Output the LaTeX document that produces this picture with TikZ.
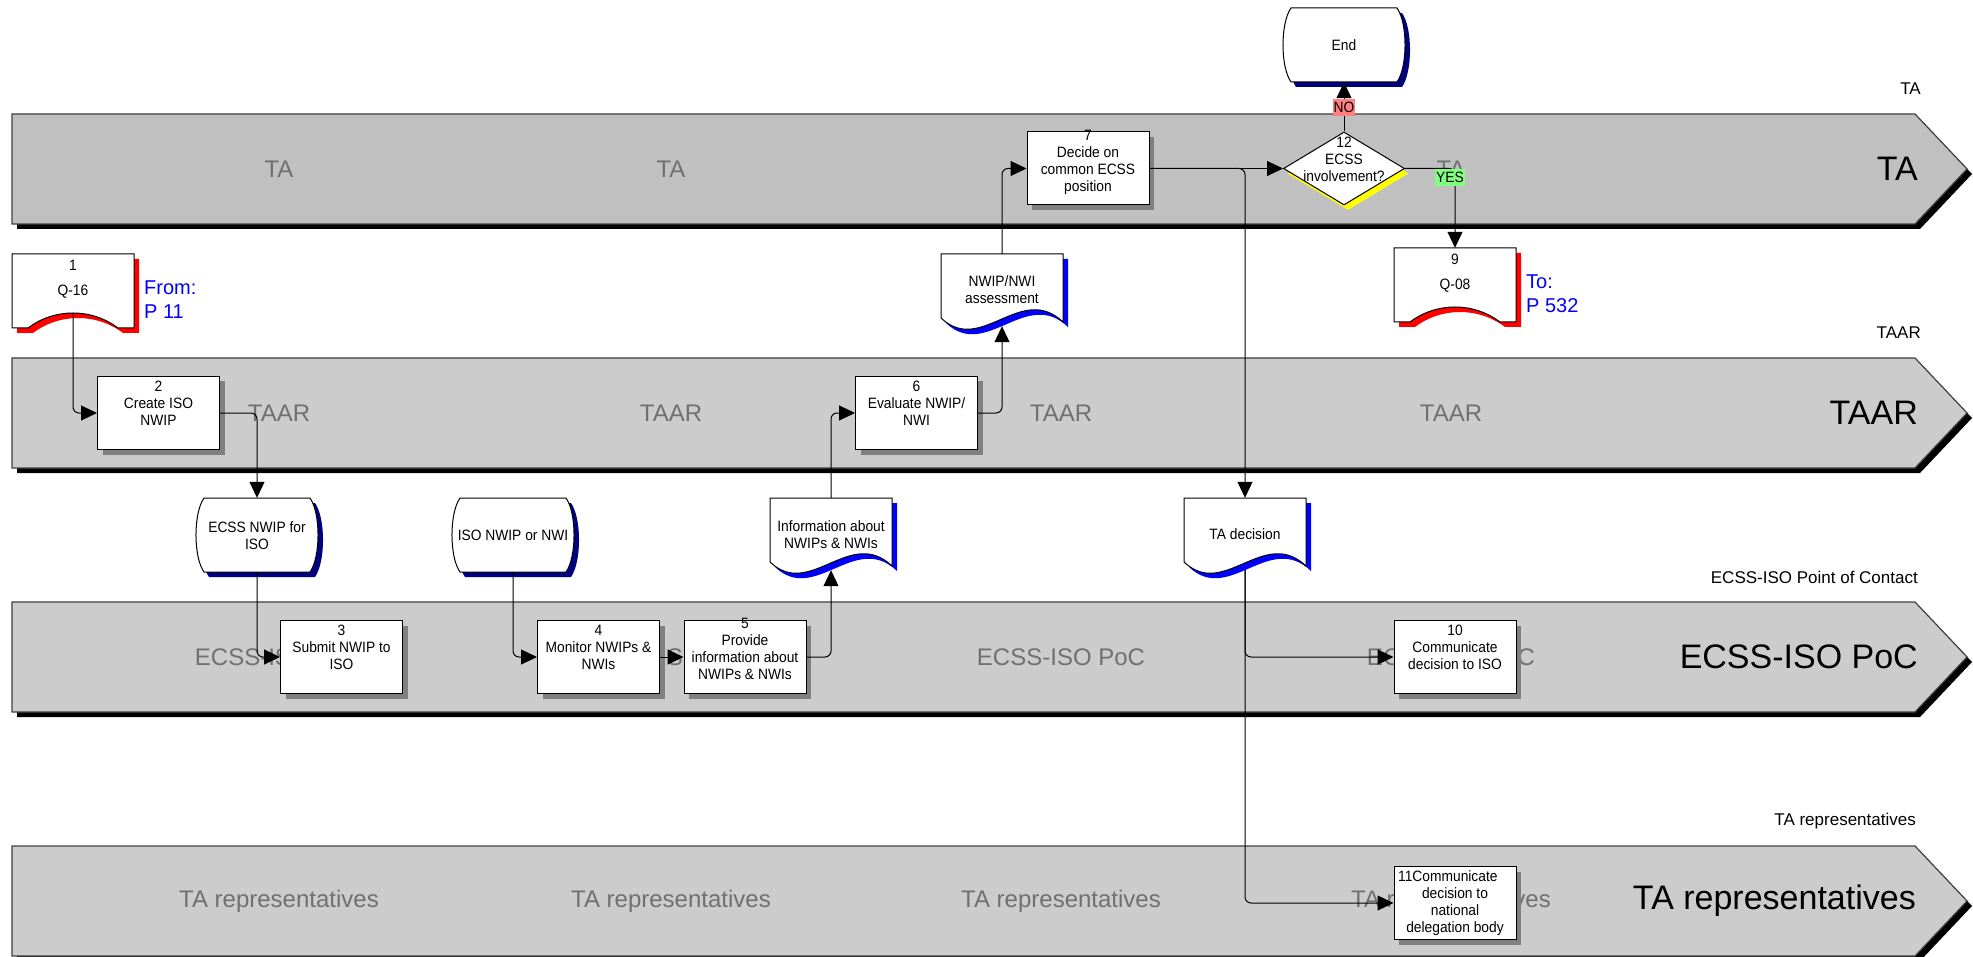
\documentclass[tikz,border=0pt]{standalone}
\usepackage{fontspec}
\setmainfont{Liberation Sans}
\newfontfamily\boxfont[FakeStretch=0.92]{Liberation Sans}
\usetikzlibrary{arrows.meta,shadows,shapes.geometric,calc}

\definecolor{lanedark}{HTML}{C0C0C0}
\definecolor{lanelight}{HTML}{CCCCCC}
\definecolor{laneedge}{HTML}{404040}
\definecolor{lanetext}{HTML}{707070}
\definecolor{boxshade}{HTML}{808080}
\definecolor{docshade}{HTML}{0000FF}
\definecolor{termshade}{HTML}{000080}
\definecolor{pageshade}{HTML}{FF0000}
\definecolor{decshade}{HTML}{FFFF00}
\definecolor{refblue}{HTML}{0000FF}
\definecolor{nofill}{HTML}{FF8080}
\definecolor{yesfill}{HTML}{80FF80}

% outlines in local units (1 unit = 1pt, y grows downwards)
\newcommand\swimlaneoutline{(0,0) -- (1903,0) -- (1955,55) -- (1903,110) -- (0,110) -- cycle}
\newcommand\docsymoutline{(0,0) -- (122,0) -- (122,68) .. controls (80,28) and (40,102) .. (0,64) -- cycle}
\newcommand\termsymoutline{(8,0) -- (114,0) .. controls (124.7,15) and (124.7,59) .. (114,74) -- (8,74) .. controls (-2.7,59) and (-2.7,15) .. (8,0) -- cycle}
\newcommand\pagesymoutline{(0,0) -- (122,0) -- (122,74) -- (106,74) .. controls (79.4,54) and (42.6,54) .. (16,74) -- (0,74) -- cycle}

% flowchart symbol with an offset shadow: outline, left, top, shadow colour
\newcommand\shadedsymbol[4]{%
  \begin{scope}[shift={(#2,#3)}]
    \fill[#4, shift={(5,5)}] #1;
    \filldraw[fill=white, draw=black, line width=1pt] #1;
  \end{scope}}

% swimlane band: top, fill colour
\newcommand\swimlane[2]{%
  \begin{scope}[shift={(12,#1)}]
    \fill[black, shift={(5,5)}] \swimlaneoutline;
    \filldraw[fill=#2, draw=laneedge, line width=1.2pt] \swimlaneoutline;
  \end{scope}}

% centred multi-line text that does not change the size of its node
\newcommand\boxtext[2][0pt]{\smash{\raisebox{#1}{\makebox[0pt]{\begin{tabular}{@{}c@{}}#2\end{tabular}}}}}

\begin{document}
\begin{tikzpicture}[x=1pt, y=-1pt,
  header/.style={anchor=east, inner sep=0pt, font=\fontsize{17pt}{20pt}\selectfont},
  lanetitle/.style={anchor=east, inner sep=0pt, font=\fontsize{34pt}{40pt}\selectfont},
  faint/.style={inner sep=0pt, text=lanetext, font=\fontsize{24pt}{28pt}\selectfont},
  boxfontstyle/.style={font=\boxfont\fontsize{15pt}{17pt}\selectfont},
  proc/.style={boxfontstyle, rectangle, draw=black, line width=1pt, fill=white,
    minimum width=122pt, minimum height=73pt, inner sep=0pt,
    general shadow={fill=boxshade, shadow xshift=5pt, shadow yshift=-5pt}},
  decision/.style={boxfontstyle, diamond, draw=black, line width=1pt, fill=white,
    minimum width=121pt, minimum height=73pt, inner sep=0pt,
    general shadow={fill=decshade, shadow xshift=4pt, shadow yshift=-5pt}},
  symtext/.style={boxfontstyle, inner sep=0pt, minimum width=122pt, minimum height=74pt},
  doctext/.style={symtext, minimum height=72pt},
  reflabel/.style={anchor=west, inner sep=0pt, align=left, text=refblue,
    font=\fontsize{20pt}{24pt}\selectfont},
  flow/.style={draw=black, line width=1pt, rounded corners=6pt,
    -{Triangle[length=16pt,width=15pt]}},
  nolabel/.style={boxfontstyle, fill=nofill, inner xsep=1pt, inner ysep=3pt, sharp corners},
  yeslabel/.style={boxfontstyle, fill=yesfill, inner xsep=1pt, inner ysep=3pt, sharp corners},
]
\useasboundingbox (0,0) rectangle (1973,957);

% ---------------- swimlanes ----------------
\swimlane{114}{lanedark}
\swimlane{358}{lanelight}
\swimlane{602}{lanelight}
\swimlane{846}{lanelight}

\node[header] (hdrTA)   at (1921,89)  {TA};
\node[header] (hdrTAAR) at (1921,333) {TAAR};
\node[header] (hdrPoC)  at (1918,577) {ECSS-ISO Point of Contact};
\node[header] (hdrRep)  at (1916,821) {TA representatives};

\node[lanetitle] (ttlTA)   at (1918,169) {TA};
\node[lanetitle] (ttlTAAR) at (1918,413) {TAAR};
\node[lanetitle] (ttlPoC)  at (1918,657) {ECSS-ISO PoC};
\node[lanetitle] (ttlRep)  at (1916,901) {TA representatives};

\foreach \x [count=\i] in {279,671,1061,1451} {
  \node[faint] (faintTA\i)   at (\x,169) {TA};
  \node[faint] (faintTAAR\i) at (\x,413) {TAAR};
  \node[faint] (faintPoC\i)  at (\x,657) {ECSS-ISO PoC};
  \node[faint] (faintRep\i)  at (\x,901) {TA representatives};
}

% ---------------- symbol outlines ----------------
\shadedsymbol{\pagesymoutline}{12}{254}{pageshade}
\shadedsymbol{\pagesymoutline}{1394}{248}{pageshade}
\shadedsymbol{\termsymoutline}{196}{498}{termshade}
\shadedsymbol{\termsymoutline}{452}{498}{termshade}
\shadedsymbol{\termsymoutline}{1283}{8}{termshade}
\shadedsymbol{\docsymoutline}{941}{254}{docshade}
\shadedsymbol{\docsymoutline}{770}{498}{docshade}
\shadedsymbol{\docsymoutline}{1184}{498}{docshade}

% ---------------- nodes ----------------
\node[symtext] (n1) at (73,291) {\boxtext[7.8pt]{1\\[8pt]Q-16}};
\node[symtext] (n9) at (1455,285) {\boxtext[7.8pt]{9\\[8pt]Q-08}};
\node[reflabel] (from1) at (144,300) {From:\\P 11};
\node[reflabel] (to9) at (1526,294) {To:\\P 532};

\node[symtext] (ecssnwip) at (257,535) {\boxtext[-5.7pt]{ECSS NWIP for\\ISO}};
\node[symtext] (isonwi) at (513,535) {\boxtext[-5.7pt]{ISO NWIP or NWI}};
\node[symtext] (endnode) at (1344,45) {\boxtext[-5.7pt]{End}};

\node[doctext] (assess) at (1002,290) {\boxtext[-5.7pt]{NWIP/NWI\\assessment}};
\node[doctext] (info) at (831,534) {\boxtext[-5.7pt]{Information about\\NWIPs \& NWIs}};
\node[doctext] (tadec) at (1245,534) {\boxtext[-5.7pt]{TA decision}};

\node[proc] (n2) at (158.5,413) {\boxtext[4pt]{2\\Create ISO\\NWIP}};
\node[proc] (n3) at (341.5,657) {\boxtext[4pt]{3\\Submit NWIP to\\ISO}};
\node[proc] (n4) at (598.5,657) {\boxtext[4pt]{4\\Monitor NWIPs \&\\NWIs}};
\node[proc] (n5) at (745,657) {\boxtext[2.5pt]{5\\Provide\\information about\\NWIPs \& NWIs}};
\node[proc] (n6) at (916.5,413) {\boxtext[4pt]{6\\Evaluate NWIP/\\NWI}};
\node[proc] (n7) at (1088,168.5) {\boxtext[2.5pt]{7\\Decide on\\common ECSS\\position}};
\node[proc] (n10) at (1455,657) {\boxtext[4pt]{10\\Communicate\\decision to ISO}};
\node[proc] (n11) at (1455,903) {\boxtext[-3.7pt]{\llap{11}Communicate\\decision to\\national\\delegation body}};

\node[decision] (n12) at (1344,168.5) {\boxtext[3.3pt]{12\\ECSS\\involvement?}};

% ---------------- connectors ----------------
\draw[flow] ($(n1.south)+(0pt,15pt)$) |- (n2.west);
\draw[flow] (n2.east) -| (ecssnwip.north);
\draw[flow] (ecssnwip.south) |- (n3.west);
\draw[flow] (isonwi.south) |- (n4.west);
\draw[flow] (n4.east) -- (n5.west);
\draw[flow] (n5.east) -| (info.south);
\draw[flow] (info.north) |- (n6.west);
\draw[flow] (n6.east) -| (assess.south);
\draw[flow] (assess.north) |- (n7.west);
\draw[flow] (n7.east) -- (n12.west);
\draw[flow] (n7.east) -| (tadec.north);
\draw[flow] (tadec.south) |- (n10.west);
\draw[flow] (tadec.south) |- (n11.west);
\draw[flow] (n12.north) -- node[nolabel, pos=0.49] {NO} (endnode.south);
\draw[flow] (n12.east) -| node[yeslabel, pos=0.557, xshift=-5pt] {YES} (n9.north);

\end{tikzpicture}
\end{document}
